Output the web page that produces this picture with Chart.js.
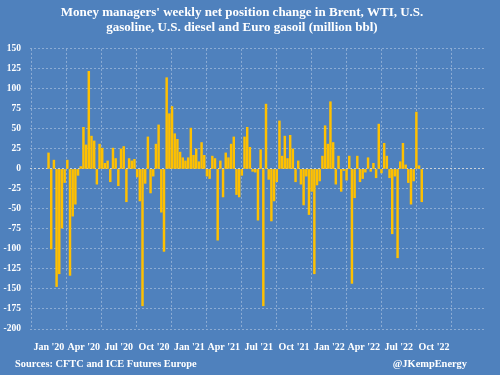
<!DOCTYPE html>
<html>
<head>
<meta charset="utf-8">
<script src="https://cdn.jsdelivr.net/npm/chart.js@4"></script>
<style>
    html, body { margin: 0; padding: 0; background: #4F81BD; }
    #wrap { position: relative; width: 500px; height: 375px; }
    .foot { position: absolute; top: 358px; color: #fff; font: bold 10.4px "Liberation Serif", serif; }
    #src { left: 15px; }
    #handle { right: 33px; }
</style>
</head>
<body>
<div id="wrap">
    <canvas id="chart" width="500" height="375"></canvas>
    <div class="foot" id="src">Sources: CFTC and ICE Futures Europe</div>
    <div class="foot" id="handle">@JKempEnergy</div>
</div>
<script>
// first CFTC report date in the series, then one bar per week
var firstReport = '2019-12-31';

var netChange2020 = [
    20, -100, 11, -147, -131, -74, -17, 11, -133, -59, -44, -8, 3, 52, 30, 122,
    41, 35, -19, 31, 26, 7, 10, -16, 26, 13, -21, 25, 28, -41, 13, 10,
    12, -10, -40, -171, -18, 40, -30, -9, 31, 55, -54, -103
];
var netChange2021 = [
    114, 69, 78, 44, 37, 21, 14, 10, 14, 51, 17, 25, 9, 33, 17, -9,
    -12, 16, 13, -89, 10, -35, 20, 14, 31, 40, -32, -35, -8, 40, 52, 27,
    -3, -4, -64, 24, -171, 81, -13, -65, -40, -16, 60, 16, 41, 13, 42, 25,
    -16, 10, -19, -45, -9, -57, -28, -131
];
var netChange2022 = [
    -20, -15, 16, 54, 31, 84, 33, -19, 16, -28, -2, -14, 16, -143, -36, 16,
    -16, -12, -4, 14, -3, 7, -11, 56, -5, 32, 16, -11, -81, -9, -111, 9,
    32, 5, -17, -44, -15, 71, 4, -41
];

var tickDays = [0, 91, 182, 274, 366, 456, 547, 639, 731, 821, 912, 1004];
var tickLabels = ["Jan '20", "Apr '20", "Jul '20", "Oct '20", "Jan '21", "Apr '21",
    "Jul '21", "Oct '21", "Jan '22", "Apr '22", "Jul '22", "Oct '22"];

var titleLines = [
    "Money managers' weekly net position change in Brent, WTI, U.S.",
    "gasoline, U.S. diesel and Euro gasoil (million bbl)"
];

function buildPoints() {
    var values = netChange2020.concat(netChange2021, netChange2022);
    var start = new Date(firstReport + 'T00:00:00Z');
    var origin = Date.UTC(2020, 0, 1);
    return values.map(function(v, i) {
        var day = (start.getTime() - origin) / 86400000 + i * 7;
        return { x: day, y: v };
    });
}

var serif = '"Liberation Serif", "DejaVu Serif", serif';
var gridColor = 'rgba(215,225,240,0.45)';

var ctx = document.getElementById('chart').getContext('2d');
var chart = new Chart(ctx, {
    type: 'bar',
    data: {
        datasets: [{
            data: buildPoints(),
            backgroundColor: '#FFC000',
            barThickness: 1.8,
            clip: false
        }]
    },
    options: {
        responsive: false,
        animation: false,
        layout: { padding: { left: 0, right: 16, top: 0, bottom: 22 } },
        plugins: {
            legend: { display: false },
            tooltip: { enabled: false },
            title: {
                display: true,
                text: titleLines,
                color: '#fff',
                font: { family: serif, size: 13, weight: 'bold', lineHeight: 1.15 },
                padding: { top: 5, bottom: 14 }
            }
        },
        scales: {
            x: {
                type: 'linear',
                min: 0,
                max: 1085,
                afterBuildTicks: function(scale) {
                    scale.ticks = tickDays.map(function(d) { return { value: d }; });
                },
                afterFit: function(scale) { scale.height = 24; },
                ticks: {
                    color: '#fff',
                    font: { family: serif, size: 10, weight: 'bold' },
                    padding: 12,
                    maxRotation: 0,
                    autoSkip: false,
                    callback: function(value) {
                        return tickLabels[tickDays.indexOf(value)];
                    }
                },
                grid: { color: gridColor, drawTicks: false },
                border: { display: false, dash: [2, 2] }
            },
            y: {
                min: -200,
                max: 150,
                afterFit: function(scale) { scale.width = 30; },
                ticks: {
                    stepSize: 25,
                    color: '#fff',
                    font: { family: serif, size: 9.5, weight: 'bold' },
                    padding: 9
                },
                grid: {
                    color: function(c) {
                        return c.tick && c.tick.value === 0 ? 'rgba(225,225,225,0.85)' : gridColor;
                    },
                    drawTicks: false
                },
                border: { display: false, dash: [2, 2] }
            }
        }
    }
});
</script>
</body>
</html>
